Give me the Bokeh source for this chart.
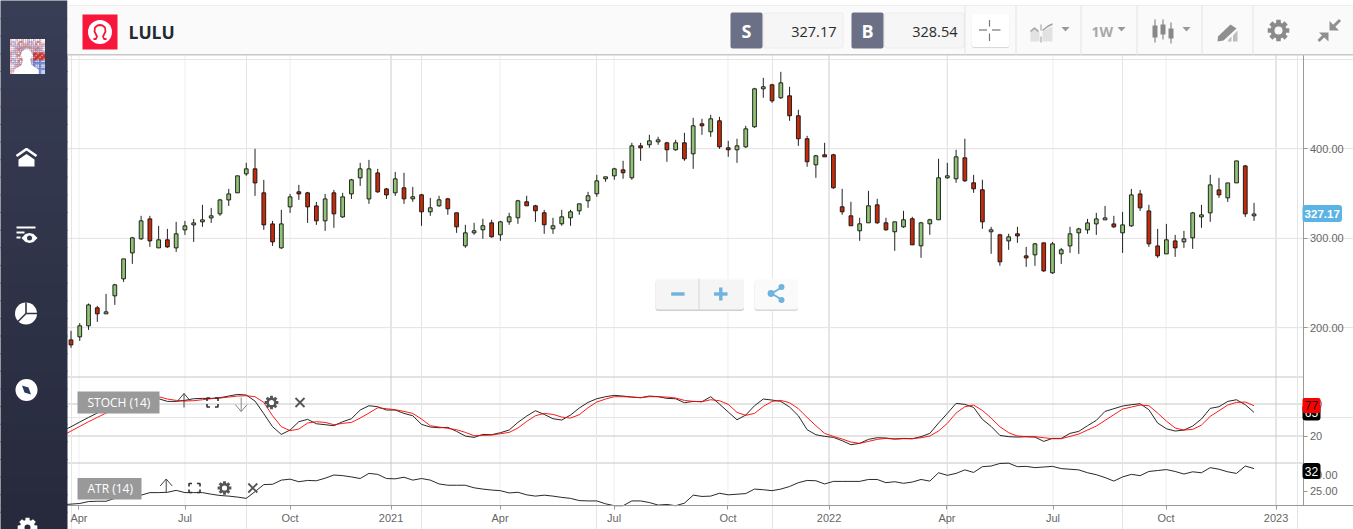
from math import cos, sin, pi
from bokeh.embed import file_html
from bokeh.models import (BoxAnnotation, FixedTicker, Label, LinearAxis, NumeralTickFormatter,
                          Range1d, ColumnDataSource)
from bokeh.plotting import figure
from bokeh.resources import INLINE

symbol = "LULU"
sell_price = "327.17"
buy_price = "328.54"

opens = [186.5,189.9,202.2,222.3,215.6,235.7,254.7,283.7,299.4,321.7,
         289.3,298.3,289.3,309.4,315,318.4,322.8,327.3,342.9,350.8,
         372,377.6,350.8,316.1,289.3,335.1,351.9,350.8,336.2,319.5,
         350.8,323.9,349.6,367.5,344,373.1,355.2,350.8,356.4,344.1,
         348.6,329.6,336.3,344.1,328.5,291.6,306.1,309.5,317.3,303.9,
         318.4,322.9,340.8,336.3,328.5,310.6,316.2,322.9,330.7,341.9,
         349.7,366.5,369.8,376.5,367.6,403.3,404.5,407.8,406.7,398.9,
         406.7,394.4,427.9,419,431.3,401.1,398.9,402.2,424.6,467,
         471.5,457,459.2,436.9,411.2,382.1,393.3,393.3,335.2,325.1,
         308.4,317.3,337.4,317.3,307.3,312.8,321.8,291.6,316.2,320.7,
         367.6,366.5,389.9,362,354.2,307.3,303.9,297.1,305,280.4,
         281.5,294.9,261.4,282.6,291.5,306.1,309.4,316.1,320.6,316.1,
         306.1,313.9,349.6,330.6,291.5,282.6,297.1,296,300.5,323.9,
         328.4,354.1,345.2,361.9,380.9,325.1]
highs = [196.6,205.2,227.1,224.5,237.9,249.1,277,301.6,325.1,325.1,
         313.9,310.5,318.4,319.5,321.7,337.4,334,344,355.2,369.8,
         384.3,399.9,365.3,319.5,331.8,349.6,359.7,351.9,340.7,349.6,
         354.1,350.8,366.4,384.3,387.6,377.6,356.3,374.2,373.2,357.5,
         349.7,345.2,347.5,345.2,328.5,315.1,317.3,321.8,320.7,319.5,
         328.5,343,347.5,337.4,331.8,322.9,331.8,331.8,338.5,351.9,
         370.9,368.7,378.8,386.6,406.7,406.7,415.6,413.4,407.8,410,
         417.9,434.6,433.5,438,435.7,408.9,411.2,425.7,468.1,479.3,
         472.6,486,469.3,443.6,414.5,393.3,406.7,394.4,355.3,340.8,
         322.9,353,344.1,322.9,318.4,330.7,324,318.4,321.8,388.8,
         384.3,398.9,411.2,370.9,365.4,312.8,305,305,312.8,290.4,
         294.9,294.9,296,289.3,312.8,311.7,321.7,328.4,336.2,325.1,
         329.5,355.2,354.1,337.4,310.5,316.1,303.8,308.3,329.5,337.4,
         370.9,367.5,361.9,386.5,382,339.6]
lows = [177.6,185.4,197.7,206.6,215.6,225.6,251.3,271.4,298.3,290.4,
        289.3,289.3,284.8,303.8,296,312.8,317.2,325.1,336.2,350.8,
        369.8,347.4,309.4,291.5,288.2,328.4,342.9,317.2,315,308.3,
        311.7,322.8,344,358.6,338.5,350.8,344,347.4,338.5,340.8,
        314,325.1,335.2,326.3,306.1,289.4,303.9,299.4,300.6,297.2,
        315.1,316.2,336.3,318.4,305,305,314,314,326.3,334.1,
        346.4,363.1,365.4,366.5,365.4,386.6,401.1,404.5,385.5,397.8,
        386.6,377.6,415.6,413.4,400,391,384.3,401.1,423.4,457,
        451.4,455.8,431.3,403.3,379.9,367.6,391,355.3,326.3,314,
        297.2,317.3,316.2,308.4,286,311.7,292.7,278.2,303.9,320.7,
        366.5,362,363.1,350.8,310.6,282.7,269.3,287.1,294.9,268.1,
        269.2,262.5,260.3,271.4,283.7,282.6,305,303.8,320.6,311.7,
        283.7,312.8,330.6,290.4,278.1,282.6,279.3,289.3,288.2,311.7,
        318.4,345.2,340.7,361.9,323.9,319.5]
closes = [180.9,202.2,225.6,215.6,217.8,248,277,300.5,319.5,297.1,
          298.3,290.4,305,313.9,317.2,320.6,325.1,342.9,349.6,369.8,
          377.6,361.9,315,296,316.1,346.3,349.6,335.1,319.5,344,
          327.3,346.3,365.3,377.6,377.6,351.9,348.5,366.4,344.1,346.4,
          329.6,334.1,343,333,312.8,306.1,308.4,314,301.7,318.4,
          324,341.9,336.3,330.7,315.1,314,324,329.6,338.5,347.5,
          364.2,368.7,377.6,373.2,403.3,401.1,408.9,410,398.9,406.7,
          388.8,425.7,425.7,433.5,402.2,398.9,403.3,422.3,467,469.3,
          453.6,473.7,436.9,411.2,385.5,392.2,391,356.4,329.6,314,
          316.2,336.3,317.3,309.5,318.4,320.7,292.7,317.3,320.7,367.6,
          369.8,391,364.2,355.3,318.4,309.5,273.7,301.6,302.7,278.1,
          293.8,263.6,293.8,287.1,305,310.5,317.2,321.7,322.8,312.8,
          315,348.5,334,293.8,280.4,298.3,289.3,299.4,328.4,326.2,
          359.7,348.5,361.9,386.5,327.3,327.17]

# Indicators start one bar left of the first visible candle
stoch_k = [29.3,37.4,46.2,54.9,63,71.8,78.7,83.7,88,91.2,
           93.7,89.9,84.9,84.9,86.8,89.9,90.5,90.5,91.8,94.9,
           98,96.8,85.5,61.8,37.4,23,31.2,46.8,51.2,43,
           41.2,39.3,46.8,52.4,68.7,76.8,74.9,68.7,68.7,62.4,
           58,41.8,36.8,35.5,36.2,28.7,19.9,17.4,23,22.4,
           26.2,31.2,45.5,57.4,67.4,60.5,52.4,49.9,59.3,72.4,
           83,89.9,93.7,96.2,94.9,93,91.8,94.9,93.7,90.5,
           89.9,82.4,84.9,84.3,93.7,79.9,64.9,50.5,59.3,76.8,
           89.3,87.4,84.9,74.3,58,31.8,22.4,19.3,17.4,11.2,
           3.7,6.2,13.7,16.8,16.2,14.3,15.5,14.9,18.7,24.9,
           44.3,62.4,81.2,79.3,73.6,51.2,38,21.1,18.7,18,
           18.7,18,9.9,15.5,15.5,24.9,28.7,39.3,49.3,66.2,
           71.2,76.2,78.7,80.5,69.3,44.3,33.6,29.3,31.2,38.6,
           51.8,71.8,74.9,84.9,88,78.7,64.3]
stoch_d = [20.5,29.3,38,46.8,54.9,63,71.8,78.7,84.3,88.7,
           91.8,93.7,89.3,86.8,85.5,86.2,88,89.9,91.2,93,
           94.9,95.5,93.7,83,58,37.4,30,33,44.3,46.8,
           45.5,41.2,43.7,45.5,53.6,63,73,71.2,69.3,66.2,
           62.4,51.8,39.3,36.8,34.3,31.8,26.8,20.5,21.2,21.8,
           24.3,26.8,34.9,47.4,58,62.4,60.5,55.5,53.6,59.9,
           73,83.7,89.3,93.7,93.7,93,91.8,93.7,93.7,93,
           91.2,86.8,84.9,84.3,88,86.2,79.3,64.3,58.7,62.4,
           75.5,84.9,86.8,82.4,71.2,54.9,39.3,24.9,19.3,14.3,
           8.7,6.2,9.9,13.7,15.5,14.3,14.9,14.9,16.8,19.9,
           29.3,43.7,63,74.9,78,68,53.6,37.4,26.2,19.9,
           18.7,18.7,16.8,14.9,14.9,19.3,23.7,31.2,38.6,49.3,
           59.9,70.5,74.3,78,76.8,63,48,34.9,31.2,32.4,
           40.5,56.8,67.4,78,83,83.7,76.8]
atr = [20.7,20.9,21.1,21.7,21.8,21.8,22.7,23.1,23.3,23.7,
       24.5,24.5,24.6,25.2,24.5,24.5,24.5,24,23.6,23.4,
       23.1,22.7,24.8,27,27.1,28.4,28.7,27.9,28.3,28.2,
       29,30,29.8,29.4,28.9,30.5,30.2,28.9,28.8,29.3,
       28.4,28.9,28.4,27.2,26.8,26.8,26.8,26,25.6,25.3,
       25.1,24.4,24.6,23.8,23.4,23.7,23.4,23,22.7,22,
       21.9,21.9,21,20.4,20.4,21.9,21.9,21.4,20.6,20.8,
       20.4,21.2,23.7,23.3,23.4,24.3,23.8,24,24.2,25.6,
       25.4,25.1,25.6,26.4,27.6,28.3,28.2,27.2,28,28,
       28,28,28.6,28.6,27.6,27.9,27.4,27.8,28.6,28.1,
       30.7,29.9,30.5,31.6,30.8,32.6,32.8,33.6,33.7,32.6,
       32.7,32.3,32.5,32.7,32,31.8,31.6,30.7,30.1,29.2,
       28.1,29.4,30.2,29.8,31.1,31.4,31.7,31.1,30.3,31,
       30.7,32.3,31.8,31,30.5,32.8,32]

tick_bars = [0.91, 13.01, 25.0, 36.52, 48.96, 61.97, 74.97, 86.5, 99.96, 112.06, 124.96, 137.51]
tick_labels = ["Apr", "Jul", "Oct", "2021", "Apr", "Jul", "Oct", "2022", "Apr", "Jul", "Oct", "2023"]
year_bars = [36.52, 86.5, 137.51]
price_ticks = [200, 300, 400]
stoch_ticks = [20, 80]
atr_ticks = [25, 30]

assert len(opens) == len(highs) == len(lows) == len(closes) == 136
assert len(stoch_k) == len(stoch_d) == len(atr) == 137

W, H = 1353, 529
p = figure(width=W, height=H, output_backend="svg", toolbar_location=None,
           x_axis_location=None, y_axis_location=None, min_border=0,
           x_range=Range1d(-8.045, 146.35), y_range=Range1d(-25.36, 565.70),
           background_fill_color="white", border_fill_color="white")
p.outline_line_color = None
p.styles = {"position": "absolute", "left": "0", "top": "0"}
p.extra_y_ranges = {"stoch": Range1d(-155.3, 836.56), "atr": Range1d(12.97, 178.28), "py": Range1d(529, 0)}
p.extra_x_ranges = {"px": Range1d(0, 1353)}
PX = dict(x_range_name="px", y_range_name="py")

AXIS_X = 140.7   # bar position of right-hand axis
LEFT_X = -0.4
PRICE_TOP, PRICE_BOTTOM = 510, 1.1

# grid
light = [b for b in tick_bars if b not in year_bars]
p.segment(light, PRICE_BOTTOM, light, PRICE_TOP, line_color="#eeeeee", line_width=1, level="underlay")
p.segment(year_bars, PRICE_BOTTOM, year_bars, PRICE_TOP, line_color="#cccccc", line_width=1, level="underlay")
p.segment(LEFT_X, price_ticks, AXIS_X, price_ticks, line_color="#f0f0f0", line_width=1, level="underlay")
p.segment(LEFT_X, stoch_ticks, AXIS_X, stoch_ticks, line_color="#c6c6c6", line_width=1, level="underlay", y_range_name="stoch")
p.segment([67, 67], [376.5, 462.5], [1303, 1303], [376.5, 462.5], line_color="#c6c6c6", line_width=1, level="underlay", **PX)

# candles
bars = list(range(len(closes)))
up = [c >= o for o, c in zip(opens, closes)]
src = ColumnDataSource(dict(x=bars, o=opens, h=highs, l=lows, c=closes,
                            fill=["#90c374" if u else "#c22c0a" for u in up]))
p.segment("x", "l", "x", "h", source=src, line_color="#222222", line_width=1)
p.vbar("x", 0.43, "o", "c", source=src, fill_color="fill", line_color="#111111", line_width=0.9)

# indicators
ind_x = list(range(-1, len(closes)))
p.line(ind_x, stoch_k, line_color="#111111", line_width=0.9, y_range_name="stoch")
p.line(ind_x, stoch_d, line_color="#ff0000", line_width=0.9, y_range_name="stoch")
p.line(ind_x, atr, line_color="#111111", line_width=0.9, y_range_name="atr")

# axes
label_style = dict(major_label_text_font="Liberation Sans", major_label_text_font_size="11px",
                   major_label_text_color="#666666", minor_tick_line_color=None, major_tick_in=0,
                   major_tick_out=4, major_tick_line_color="#999999")
xaxis = LinearAxis(ticker=FixedTicker(ticks=tick_bars), fixed_location=PRICE_BOTTOM,
                   major_label_overrides=dict(zip(tick_bars, tick_labels)),
                   axis_line_color="#999999", major_label_standoff=2, **label_style)
p.add_layout(xaxis, "below")
yaxis = LinearAxis(ticker=FixedTicker(ticks=price_ticks), fixed_location=AXIS_X,
                   formatter=NumeralTickFormatter(format="0.00"), axis_line_color="#999999",
                   bounds=(PRICE_BOTTOM, PRICE_TOP), major_label_standoff=2, **label_style)
p.add_layout(yaxis, "right")
saxis = LinearAxis(ticker=FixedTicker(ticks=stoch_ticks), fixed_location=AXIS_X, y_range_name="stoch",
                   axis_line_color=None, major_label_standoff=2, **label_style)
p.add_layout(saxis, "right")
aaxis = LinearAxis(ticker=FixedTicker(ticks=atr_ticks), fixed_location=AXIS_X, y_range_name="atr",
                   formatter=NumeralTickFormatter(format="0.00"), axis_line_color=None,
                   major_label_standoff=2, **label_style)
p.add_layout(aaxis, "right")


def box(l, t, r, b, fill, alpha=1.0, line=None, radius=0):
    p.add_layout(BoxAnnotation(left=l, right=r, top=t, bottom=b, fill_color=fill, fill_alpha=alpha,
                               line_color=line or fill, line_alpha=1 if line else 0, line_width=1,
                               border_radius=radius, level="annotation", **PX))


def text(x, y, s, font="Open Sans", size="12px", color="#222222", align="left", style="normal"):
    p.add_layout(Label(x=x, y=y, text=s, text_font=font, text_font_size=size, text_color=color,
                       text_align=align, text_baseline="middle", text_font_style=style,
                       level="annotation", **PX))


def poly(pts, color):
    p.patch([a for a, _ in pts], [b for _, b in pts], fill_color=color, line_color=None, level="overlay", **PX)


def stroke(pts, color, width=1.0, dash="solid"):
    p.line([a for a, _ in pts], [b for _, b in pts], line_color=color, line_width=width,
           line_dash=dash, level="overlay", **PX)


def disc(x, y, r, color):
    p.scatter([x], [y], size=2 * r, fill_color=color, line_color=None, level="overlay", **PX)


def gear(cx, cy, ro, ri, hole, color, bg):
    pts = []
    for k in range(8):
        a = k * pi / 4
        for d, r in ((-0.30, ri), (-0.20, ro), (0.20, ro), (0.30, ri)):
            pts.append((cx + r * cos(a + d), cy + r * sin(a + d)))
    poly(pts, color)
    disc(cx, cy, hole, bg)


# sidebar and header
for k in range(30):
    t = k / 29
    col = "#%02x%02x%02x" % (int(0x38 - t * 0x11), int(0x3e - t * 0x14), int(0x56 - t * 0x1a))
    box(-3, k * H / 30 - (3 if k == 0 else 0), 67, (k + 1) * H / 30 + 1, col)
box(67, -3, W + 3, 5, "#ffffff")
box(67, 5, W + 3, 54, "#fafafa")
box(67, 4.5, W + 3, 5.5, "#eeeeee")
box(67, 53.5, W + 3, 55, "#c8c8c8")

# header: logo, symbol
box(82, 14, 117, 49, "#f9163c")
disc(99.5, 31.5, 12, "#ffffff")
stroke([(93, 38.5), (95.5, 38.5), (96.5, 36), (94, 31), (94.5, 27), (97, 25), (99.5, 24.5), (102, 25), (104.5, 27),
        (105, 31), (102.5, 36), (103.5, 38.5), (106, 38.5)], "#f9163c", 1.8)
text(128, 31, symbol, font="Open Sans", size="17.5px", color="#222933", style="bold")

# bid/ask
box(763, 12.5, 842.5, 47.5, "#f6f6f6", line="#ececec", radius=2)
box(730, 12, 762, 48, "#6b7086", radius=2)
text(746, 30.5, "S", size="18px", color="#ffffff", align="center", style="bold")
text(836, 31, sell_price, size="14.5px", color="#2b2b2b", align="right")
box(884, 12.5, 963.5, 47.5, "#f6f6f6", line="#ececec", radius=2)
box(851, 12, 883, 48, "#6b7086", radius=2)
text(867, 30.5, "B", size="18px", color="#ffffff", align="center", style="bold")
text(957, 31, buy_price, size="14.5px", color="#2b2b2b", align="right")
for sx in (964.5, 1015.5, 1080.5, 1136.5, 1201.5, 1252.5):
    box(sx - 0.5, 5, sx + 0.5, 55, "#e4e4e4")

# crosshair button
box(971, 15, 1009, 47.5, "#d9d9d9", radius=3)
box(971, 14, 1009, 46.5, "#ffffff", radius=3)
for seg in ([(978.5, 29.5), (986.5, 29.5)], [(991.5, 29.5), (1000, 29.5)], [(989, 19.5), (989, 26)], [(989, 33), (989, 40.5)]):
    stroke(seg, "#777777", 1.2)

# compare icon
poly([(1030, 41), (1030, 31), (1034, 28), (1039, 32), (1039, 41)], "#e2e2e2")
poly([(1042, 41), (1042, 31), (1047, 28), (1052, 26), (1052, 41)], "#e2e2e2")
stroke([(1030, 31), (1034, 27.5), (1038, 31)], "#a0a0a0", 1.6)
stroke([(1042, 30), (1047, 26), (1052, 23.5)], "#a0a0a0", 1.6)
stroke([(1040.5, 24), (1040.5, 42)], "#999999", 1, "dashed")
tri = lambda x: poly([(x - 4, 26.5), (x + 4, 26.5), (x, 31)], "#999999")
tri(1065)
text(1091, 31, "1W", size="14px", color="#a8a8a8", style="bold")
tri(1121)
# candles icon
for cx, tb, bb, th, bh in ((1154.5, 25, 37, 19, 42), (1162.5, 24, 34, 19, 39), (1170.5, 28, 38, 22, 43)):
    stroke([(cx, th), (cx, bh)], "#888888", 1.2)
    poly([(cx - 2.5, tb), (cx + 2.5, tb), (cx + 2.5, bb), (cx - 2.5, bb)], "#888888")
tri(1186)
# pencil icon
poly([(1217.5, 36), (1230, 24), (1236, 28), (1223, 40), (1217, 41)], "#8f8f8f")
poly([(1227, 41), (1229, 38), (1231, 36), (1231, 41)], "#bdbdbd")
poly([(1232.5, 41), (1232.5, 35), (1237, 30), (1237, 41)], "#bdbdbd")
gear(1278, 30, 11, 8, 4, "#8a8a8a", "#fafafa")
# collapse arrows
poly([(1329, 20.5), (1329, 30), (1338.5, 30)], "#8f8f8f")
stroke([(1339.5, 19.5), (1332, 27)], "#8f8f8f", 3)
poly([(1328, 41), (1328, 32), (1318.5, 32)], "#8f8f8f")
stroke([(1318, 40.5), (1325, 33.5)], "#8f8f8f", 3)

# avatar
pal = ["#f4c6d0", "#fbe9ec", "#e9a3b0", "#ffffff", "#d9c3ec", "#f2b4bd", "#b9c4f2", "#ee7f7a", "#fbe9ec"]
cell = 35 / 18
aleft, atop, aright, abot, acol = [], [], [], [], []
for a in range(18):
    for b in range(18):
        aleft.append(9.5 + a * cell)
        atop.append(38.5 + b * cell)
        aright.append(9.5 + (a + 1) * cell)
        abot.append(38.5 + (b + 1) * cell)
        if a > 11 and 7 <= b <= 10:
            acol.append("#e8332f" if (a + b) % 3 else "#f08a85")
        elif a > 11 and b > 10:
            acol.append("#7d93e6" if (a * b) % 3 == 0 else "#cdd5f5")
        else:
            acol.append(pal[(a * a * 3 + b * b * 5 + a * b * 7) % 9])
p.quad(left=aleft, right=aright, top=atop, bottom=abot, fill_color=acol, line_color=None, level="overlay", **PX)
disc(26, 54.5, 5.5, "#ffffff")
stroke([(20.5, 48), (26, 46), (31.5, 48)], "#c98f8f", 2)
poly([(14, 73.5), (14, 69), (21, 64.5), (23, 58), (29, 58), (31, 64.5), (38, 69), (38, 73.5)], "#ffffff")
# sidebar icons
stroke([(16, 155.5), (26, 148.5), (36, 155.5)], "#ffffff", 2.6)
poly([(18, 159), (26, 153.5), (34, 159), (34, 166), (18, 166)], "#ffffff")
stroke([(16, 227), (35, 227)], "#ffffff", 2)
stroke([(16, 232), (24, 232)], "#ffffff", 2)
stroke([(16, 237), (20, 237)], "#ffffff", 2)
poly([(21, 237.5), (25, 233.5), (29, 232.5), (33, 233.5), (37, 237.5), (33, 241.5), (29, 242.5), (25, 241.5)], "#ffffff")
disc(29, 237.5, 2.5, "#303549")
disc(25.5, 313, 11, "#ffffff")
stroke([(25.5, 302), (25.5, 313), (36.5, 313)], "#2f3447", 1.6)
stroke([(25.5, 313), (17.5, 321)], "#2f3447", 1.6)
disc(26, 389.5, 11, "#ffffff")
poly([(21.5, 385), (28, 387), (30.5, 394), (24, 392)], "#2b3a63")
gear(27, 527, 10, 7.5, 3, "#ffffff", "#272b3d")

# zoom / share buttons
box(655, 279.5, 743.5, 310.5, "#cfcfcf", radius=3)
box(655, 278, 743.5, 309, "#f9f9f9", alpha=0.92, radius=3)
box(698, 278, 699, 309, "#d8d8d8")
box(754, 279.5, 797.5, 310.5, "#d8d8d8", radius=3)
box(754, 278, 797.5, 309, "#fcfcfc", alpha=0.95, radius=3)
blue = "#6fb3de"
stroke([(670.7, 293.5), (684, 293.5)], blue, 3.4)
stroke([(713.5, 293.5), (727, 293.5)], blue, 3.4)
stroke([(720.3, 287), (720.3, 300)], blue, 3.4)
stroke([(781, 287), (771, 293), (781, 299)], blue, 2)
disc(770.5, 293, 3.4, blue)
disc(781, 286.5, 3, blue)
disc(781, 299.5, 3, blue)

# indicator tags
box(77, 391, 159, 413, "#999999")
text(87, 402, "STOCH (14)", color="#ffffff")
box(77, 477.5, 141, 499, "#999999")
text(87, 488, "ATR (14)", color="#ffffff")


def tag_icons(xa, xs, xd, xg, xc, y):
    dark = "#444444"
    stroke([(xa - 6, y - 2), (xa, y - 9), (xa + 6, y - 2)], dark, 1)
    stroke([(xa, y - 9), (xa, y + 5)], dark, 1)
    for sgx, sgy in ((-1, -1), (1, -1), (-1, 1), (1, 1)):
        cx, cy = xs + sgx * 5.5, y + sgy * 4.5
        stroke([(cx, cy - sgy * 3), (cx, cy), (cx - sgx * 3, cy)], "#333333", 1.6)
    if xd is not None:
        stroke([(xd - 6, y + 2), (xd, y + 9), (xd + 6, y + 2)], "#888888", 1)
        stroke([(xd, y - 5), (xd, y + 9)], "#888888", 1)
    gear(xg, y, 7, 5, 2.6, "#555555", "#ffffff")
    stroke([(xc - 4.5, y - 4.5), (xc + 4.5, y + 4.5)], "#555555", 1.8)
    stroke([(xc - 4.5, y + 4.5), (xc + 4.5, y - 4.5)], "#555555", 1.8)


tag_icons(183.5, 212, 240.7, 271, 299.5, 402)
tag_icons(165.7, 194, None, 224, 252.3, 487.5)

# last value badges
box(1302, 404, 1320, 420, "#000000", radius=3)
text(1311, 412, "65", size="12px", font="Liberation Sans", color="#ffffff", align="center")
box(1302, 397.5, 1320, 412.5, "#ff0000", radius=2)
text(1311, 405, "77", size="12px", font="Liberation Sans", color="#111111", align="center")
box(1302, 462.5, 1320, 478.5, "#000000", radius=3)
text(1311, 470.5, "32", size="12px", font="Liberation Sans", color="#ffffff", align="center")
box(1302, 204.5, 1341.5, 221.5, "#5bb4e3", radius=3)
text(1321.7, 213, "327.17", size="11.5px", font="Liberation Sans", color="#ffffff", align="center", style="bold")

open("out.html", "w").write(file_html(p, INLINE))
